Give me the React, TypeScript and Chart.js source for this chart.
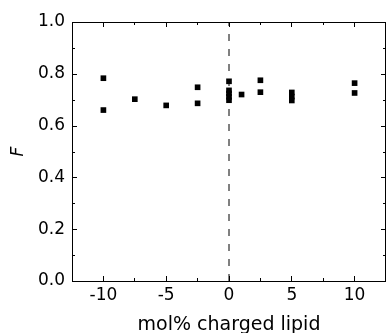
import React, { useEffect, useRef } from "react";
import { Chart, registerables } from "chart.js";

Chart.register(...registerables);

const xValues = [-10, -10, -7.5, -5, -2.5, -2.5, 0, 0, 0, 0, 0, 1, 2.5, 2.5, 5, 5, 5, 10, 10];
const fValues = [0.783, 0.66, 0.702, 0.678, 0.748, 0.686, 0.771, 0.736, 0.724, 0.711, 0.698, 0.72, 0.775, 0.729, 0.728, 0.712, 0.697, 0.764, 0.726];
const xMajorTicks = [-10, -5, 0, 5, 10];
const xMinorTicks = [-7.5, -2.5, 2.5, 7.5];
const yMajorTicks = [0, 0.2, 0.4, 0.6, 0.8, 1.0];
const yMinorTicks = [0.1, 0.3, 0.5, 0.7, 0.9];

const FONT = "'DejaVu Sans', 'Liberation Sans', Arial, sans-serif";

const framePlugin = {
  id: "frameTicks",
  afterDraw(chart: any) {
    const { ctx, chartArea } = chart;
    const xs = chart.scales.x;
    const ys = chart.scales.y;
    const { left, right, top, bottom } = chartArea;
    ctx.save();
    ctx.strokeStyle = "#000";
    ctx.lineWidth = 1;
    ctx.beginPath();
    ctx.moveTo(left, top + 0.5);
    ctx.lineTo(right, top + 0.5);
    ctx.moveTo(right - 0.5, top);
    ctx.lineTo(right - 0.5, bottom);
    ctx.moveTo(left + 0.5, top);
    ctx.lineTo(left + 0.5, bottom);
    ctx.moveTo(left, bottom + 0.5);
    ctx.lineTo(right, bottom + 0.5);
    const xt = (v: number, len: number) => {
      const p = Math.round(xs.getPixelForValue(v) - 0.5) + 0.5;
      ctx.moveTo(p, bottom);
      ctx.lineTo(p, bottom - len);
      ctx.moveTo(p, top);
      ctx.lineTo(p, top + len);
    };
    const yt = (v: number, len: number) => {
      const p = Math.round(ys.getPixelForValue(v)) + 0.5;
      ctx.moveTo(left, p);
      ctx.lineTo(left + len, p);
      ctx.moveTo(right, p);
      ctx.lineTo(right - len, p);
    };
    xMajorTicks.forEach((v) => xt(v, 5));
    xMinorTicks.forEach((v) => xt(v, 3));
    yMajorTicks.forEach((v) => yt(v, 5));
    yMinorTicks.forEach((v) => yt(v, 3));
    ctx.stroke();
    ctx.restore();
  },
};

export default function App() {
  const ref = useRef<HTMLCanvasElement>(null);
  useEffect(() => {
    if (!ref.current) return;
    const chart = new Chart(ref.current, {
      type: "scatter",
      data: {
        datasets: [
          {
            label: "F",
            data: xValues.map((x, i) => ({ x, y: fValues[i] })),
            pointStyle: "rect",
            pointRadius: 4,
            pointHoverRadius: 4,
            backgroundColor: "#000",
            borderColor: "#000",
            borderWidth: 0,
          },
          {
            label: "zero",
            type: "line",
            data: [
              { x: 0, y: 0 },
              { x: 0, y: 1 },
            ],
            borderColor: "#000",
            borderWidth: 1,
            borderDash: [7, 8],
            pointRadius: 0,
            showLine: true,
          } as any,
        ],
      },
      options: {
        animation: false,
        responsive: false,
        events: [],
        layout: { padding: { top: 22, right: 1, left: 0, bottom: 0 } },
        plugins: { legend: { display: false }, tooltip: { enabled: false } },
        scales: {
          x: {
            type: "linear",
            min: -12.5,
            max: 12.5,
            afterFit: (s: any) => {
              s.height = 52;
            },
            afterBuildTicks: (s: any) => {
              s.ticks = xMajorTicks.map((v) => ({ value: v }));
            },
            grid: { display: false, drawTicks: false },
            border: { display: false },
            ticks: {
              color: "#000",
              font: { family: FONT, size: 17 },
              padding: 4,
              maxRotation: 0,
              callback: (v: any) => String(v),
            },
            title: {
              display: true,
              text: "mol% charged lipid",
              color: "#000",
              font: { family: FONT, size: 19 },
              padding: { top: 0, bottom: -3 },
            },
          },
          y: {
            type: "linear",
            min: 0,
            max: 1,
            afterFit: (s: any) => {
              s.width = 72;
            },
            afterBuildTicks: (s: any) => {
              s.ticks = yMajorTicks.map((v) => ({ value: v }));
            },
            grid: { display: false, drawTicks: false },
            border: { display: false },
            ticks: {
              color: "#000",
              font: { family: FONT, size: 17 },
              padding: 7,
              callback: (v: any) => Number(v).toFixed(1),
            },
            title: {
              display: true,
              text: "F",
              color: "#000",
              font: { family: FONT, size: 17, style: "italic" },
              padding: { top: 8, bottom: 0 },
            },
          },
        },
      },
      plugins: [framePlugin],
    });
    return () => chart.destroy();
  }, []);
  return (
    <div style={{ position: "fixed", left: 0, top: 0, width: 386, height: 333, overflow: "hidden", background: "#fff" }}>
      <canvas ref={ref} width={390} height={333} style={{ display: "block" }} />
    </div>
  );
}
